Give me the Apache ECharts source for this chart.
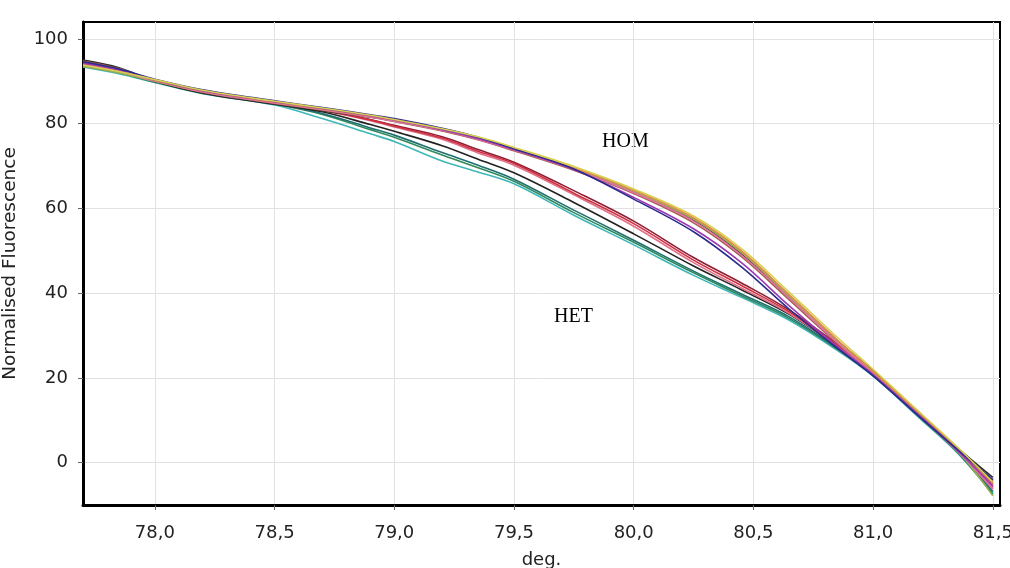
<!DOCTYPE html>
<html>
<head>
<meta charset="utf-8">
<script src="https://cdn.jsdelivr.net/npm/echarts@6/dist/echarts.min.js"></script>
<style>
html,body{margin:0;padding:0;background:#fff;}
#chart{width:1010px;height:568px;}
</style>
</head>
<body>
<div id="chart"></div>
<script>
// Temperatures (deg.)
var temps = [77.70, 77.85, 78.00, 78.20, 78.50, 78.70, 78.90, 79.00, 79.20, 79.35, 79.50, 79.75, 80.00, 80.25, 80.45, 80.65, 80.85, 81.00, 81.20, 81.35, 81.50];

// HOM group curves (normalised fluorescence)
var homYellow = [93.8, 92.3, 90.4, 87.9, 85.3, 83.7, 82.0, 81.0, 78.8, 76.9, 74.4, 69.9, 64.6, 58.2, 50.5, 40.2, 29.6, 22.0, 11.6, 3.8, -4.6];
var homOrange = [94.2, 92.6, 90.2, 87.7, 85.1, 83.5, 81.8, 80.8, 78.6, 76.6, 74.1, 69.6, 64.3, 57.8, 50.0, 39.6, 29.0, 21.5, 11.2, 3.4, -5.2];
var homOlive  = [93.5, 92.0, 90.0, 87.6, 85.0, 83.4, 81.7, 80.7, 78.5, 76.5, 74.0, 69.5, 64.0, 57.5, 49.6, 39.2, 28.6, 21.2, 10.8, 3.0, -7.8];
var homPink   = [94.0, 92.4, 90.1, 87.5, 84.9, 83.3, 81.6, 80.6, 78.4, 76.3, 73.8, 69.2, 63.7, 57.0, 49.0, 38.8, 28.4, 21.0, 10.6, 2.8, -6.0];
var homPurple = [94.3, 92.7, 90.3, 87.8, 85.2, 83.6, 81.9, 80.9, 78.6, 76.5, 73.9, 69.2, 62.6, 55.2, 47.2, 37.0, 27.4, 20.8, 10.8, 3.0, -5.5];
var homNavy   = [94.6, 92.9, 90.5, 88.0, 85.4, 83.8, 82.1, 81.2, 78.9, 76.8, 74.1, 69.3, 62.2, 54.5, 46.2, 36.2, 27.0, 20.5, 10.5, 3.2, -4.0];
var homBrown  = [94.8, 93.0, 90.2, 87.4, 84.8, 83.2, 81.5, 80.5, 78.3, 76.2, 73.6, 69.0, 63.5, 56.6, 48.6, 38.4, 28.2, 21.3, 11.0, 3.3, -4.5];
var homBlack  = [95.0, 93.2, 90.0, 87.2, 84.6, 83.0, 81.6, 80.8, 78.7, 76.6, 74.0, 69.4, 63.9, 57.2, 49.2, 39.0, 28.8, 21.6, 11.4, 3.6, -3.5];

// HET group curves
var hetRed     = [94.1, 92.5, 90.1, 87.6, 85.0, 83.2, 80.9, 79.4, 76.6, 73.5, 70.6, 63.6, 56.4, 47.8, 41.8, 35.6, 27.8, 21.4, 11.0, 3.0, -5.8];
var hetDarkRed = [94.4, 92.8, 90.3, 87.7, 85.1, 83.3, 81.0, 79.6, 76.9, 73.9, 70.9, 64.2, 57.0, 48.4, 42.4, 36.0, 28.0, 21.6, 11.2, 3.2, -5.0];
var hetPink    = [93.9, 92.3, 90.0, 87.5, 84.9, 83.1, 80.7, 79.2, 76.3, 73.1, 70.2, 63.2, 55.8, 47.2, 41.2, 35.2, 27.5, 21.2, 10.9, 2.9, -6.3];
var hetBlack   = [94.6, 92.9, 90.2, 87.4, 84.8, 82.8, 79.8, 78.2, 74.8, 71.6, 68.4, 61.4, 54.0, 46.4, 40.8, 35.0, 27.4, 21.0, 10.8, 3.0, -4.2];
var hetTeal    = [93.7, 92.1, 89.9, 87.3, 84.7, 82.4, 79.0, 77.3, 73.2, 70.2, 66.9, 59.6, 52.5, 45.2, 39.8, 34.4, 27.0, 20.8, 10.6, 2.8, -6.8];
var hetGreen   = [93.6, 92.0, 89.8, 87.2, 84.6, 82.2, 78.6, 76.8, 72.6, 69.6, 66.4, 59.0, 52.0, 44.8, 39.4, 34.0, 26.8, 20.6, 10.4, 2.6, -7.5];
var hetCyan    = [93.4, 91.8, 89.7, 87.1, 84.4, 81.2, 77.6, 75.8, 71.2, 68.6, 65.8, 58.4, 51.4, 44.2, 39.0, 33.6, 26.5, 20.4, 10.2, 2.4, -7.2];

// Axis ticks
var xTicks = [78.0, 78.5, 79.0, 79.5, 80.0, 80.5, 81.0, 81.5];
var yTicks = [0, 20, 40, 60, 80, 100];

var curves = [
  {name:'hetCyan', data:hetCyan, color:'#3fb6b8'},
  {name:'hetGreen', data:hetGreen, color:'#2f8a5c'},
  {name:'hetTeal', data:hetTeal, color:'#1f6f72'},
  {name:'hetBlack', data:hetBlack, color:'#222222'},
  {name:'hetPink', data:hetPink, color:'#e0708a'},
  {name:'hetDarkRed', data:hetDarkRed, color:'#8c1f35'},
  {name:'hetRed', data:hetRed, color:'#cf3040'},
  {name:'homBlack', data:homBlack, color:'#2a2a2a'},
  {name:'homBrown', data:homBrown, color:'#a85a4a'},
  {name:'homOlive', data:homOlive, color:'#98b050'},
  {name:'homPink', data:homPink, color:'#e070a8'},
  {name:'homOrange', data:homOrange, color:'#e08a48'},
  {name:'homPurple', data:homPurple, color:'#9a3ab0'},
  {name:'homNavy', data:homNavy, color:'#2b2b8c'},
  {name:'homYellow', data:homYellow, color:'#d8cf50'}
];

var series = curves.map(function(c){
  return {
    name: c.name,
    type: 'line',
    data: temps.map(function(t, i){ return [t, c.data[i]]; }),
    smooth: 0.35,
    showSymbol: false,
    silent: true,
    lineStyle: {width: 1.6, color: c.color},
    itemStyle: {color: c.color}
  };
});

var chart = echarts.init(document.getElementById('chart'), null, {renderer:'canvas'});
var axisFont = 'DejaVu Sans';
chart.setOption({
  animation: false,
  backgroundColor: '#ffffff',
  grid: {left: 83, right: 10, top: 22, bottom: 63, show: true, borderColor: '#000', borderWidth: 2,
    backgroundColor: 'transparent', outerBoundsMode: 'none', containLabel: false},
  xAxis: {
    type: 'value',
    min: 77.70,
    max: 81.53,
    name: 'deg.',
    nameLocation: 'middle',
    nameGap: 46,
    nameTextStyle: {fontFamily: axisFont, fontSize: 18, color: '#222'},
    axisLine: {onZero: false, lineStyle: {color: '#000', width: 3}},
    axisTick: {show: true, customValues: xTicks, length: 5, lineStyle: {color: '#666'}},
    axisLabel: {customValues: xTicks, margin: 19, fontFamily: axisFont, fontSize: 18, color: '#222',
      formatter: function(v){ return v.toFixed(1).replace('.', ','); }},
    splitLine: {show: true, lineStyle: {color: '#e2e2e2', width: 1}}
  },
  yAxis: {
    type: 'value',
    min: -10,
    max: 104,
    name: 'Normalised Fluorescence',
    nameLocation: 'middle',
    nameGap: 63,
    nameTextStyle: {fontFamily: axisFont, fontSize: 18.5, color: '#222'},
    axisLine: {show: true, onZero: false, lineStyle: {color: '#000', width: 3}},
    axisTick: {show: true, customValues: yTicks, length: 5, lineStyle: {color: '#666'}},
    axisLabel: {customValues: yTicks, margin: 15, fontFamily: axisFont, fontSize: 18, color: '#222'},
    splitLine: {show: true, lineStyle: {color: '#e2e2e2', width: 1}}
  },
  graphic: [
    {type: 'text', left: 626 - 24, top: 142 - 10, style: {text: 'HOM', font: '20px "Liberation Serif"', fill: '#000'}},
    {type: 'text', left: 574 - 20, top: 317 - 10, style: {text: 'HET', font: '20px "Liberation Serif"', fill: '#000'}}
  ],
  series: series
});
</script>
</body>
</html>
